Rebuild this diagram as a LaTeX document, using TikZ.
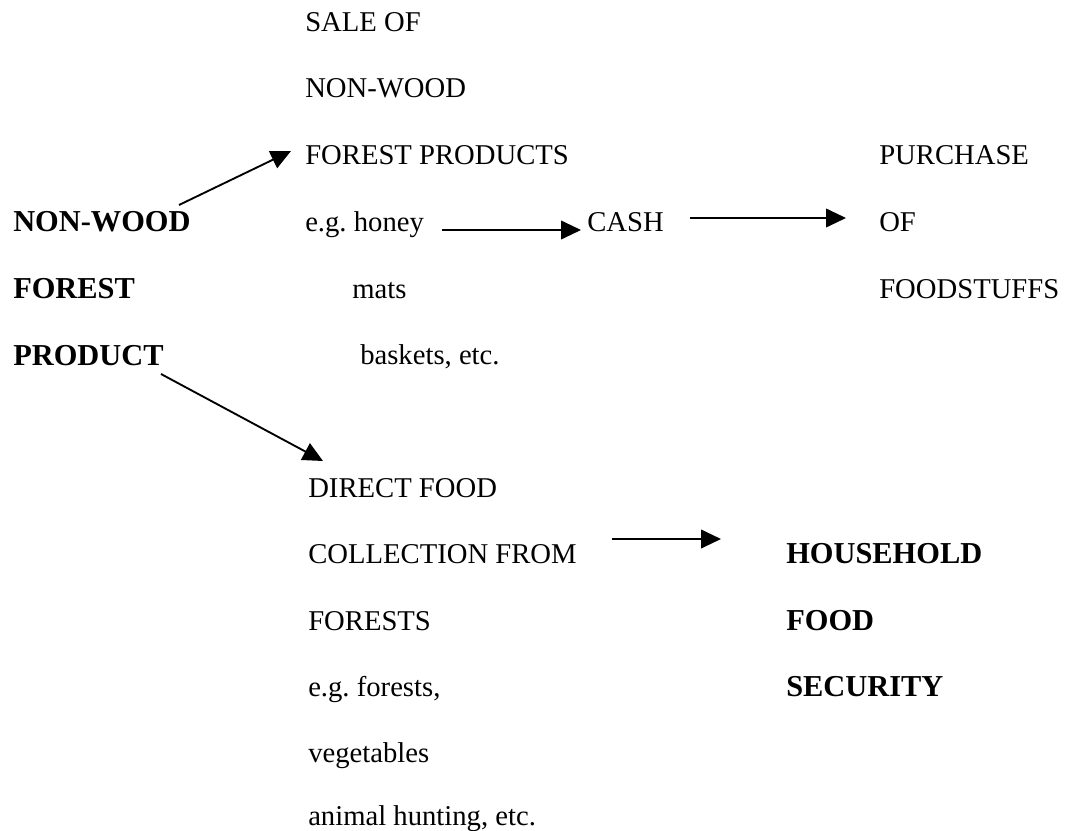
\documentclass[tikz,border=0pt]{standalone}
\usepackage{fontspec}
\setmainfont{Liberation Serif}
\usetikzlibrary{arrows.meta}

\tikzset{
  txt/.style={anchor=base west, inner sep=0.75pt, font=\fontsize{21.5pt}{26pt}\selectfont\frenchspacing},
  boldtxt/.style={txt, font=\fontsize{22.8pt}{27pt}\selectfont\bfseries},
  flow/.style={-{Triangle[length=15pt,width=14pt]}, line width=1.4pt}
}

\begin{document}
\begin{tikzpicture}[x=0.75pt,y=0.75pt,yscale=-1]
%set diagram to the page: 1070 wide, 831 high
\useasboundingbox (0,0) rectangle (1070,831);

% Text Node : left block
\node [boldtxt] (nwood) at (12,231) {NON-WOOD};
\node [boldtxt] (forest) at (12,298) {FOREST};
\node [boldtxt] (product) at (12,365) {PRODUCT};

% Text Node : sale column
\node [txt] (sale) at (304,32) {SALE OF};
\node [txt] (nonwood) at (304,98) {NON-WOOD};
\node [txt] (forprod) at (304,165) {FOREST PRODUCTS};
\node [txt] (honey) at (304,231) {e.g. honey};
\node [txt] (mats) at (351,298) {mats};
\node [txt] (baskets) at (359,364) {baskets, etc.};

% Text Node : cash
\node [txt] (cash) at (586,231) {CASH};

% Text Node : purchase column
\node [txt] (purch) at (878,165) {PURCHASE};
\node [txt] (of) at (878,231) {OF};
\node [txt] (stuffs) at (878,298) {FOODSTUFFS};

% Text Node : collection column
\node [txt] (direct) at (307,497) {DIRECT FOOD};
\node [txt] (collect) at (307,563) {COLLECTION FROM};
\node [txt] (forests) at (307,630) {FORESTS};
\node [txt] (egfor) at (307,696) {e.g. forests,};
\node [txt] (veg) at (307,762) {vegetables};
\node [txt] (hunt) at (307,825) {animal hunting, etc.};

% Text Node : household
\node [boldtxt] (house) at (785,563) {HOUSEHOLD};
\node [boldtxt] (food) at (785,630) {FOOD};
\node [boldtxt] (secur) at (785,696) {SECURITY};

%Straight Lines
\draw [flow] ([shift={(167,-26)}]nwood.base west) -- ([shift={(-13,-14)}]forprod.base west);
\draw [flow] ([shift={(138,-1)}]honey.base west) -- ([shift={(-5,-1)}]cash.base west);
\draw [flow] ([shift={(104,-13)}]cash.base west) -- ([shift={(-32,-13)}]of.base west);
\draw [flow] ([shift={(149,9)}]product.base west) -- ([shift={(16,-36)}]direct.base west);
\draw [flow] ([shift={(305,-24)}]collect.base west) -- ([shift={(-64,-24)}]house.base west);

\end{tikzpicture}
\end{document}
